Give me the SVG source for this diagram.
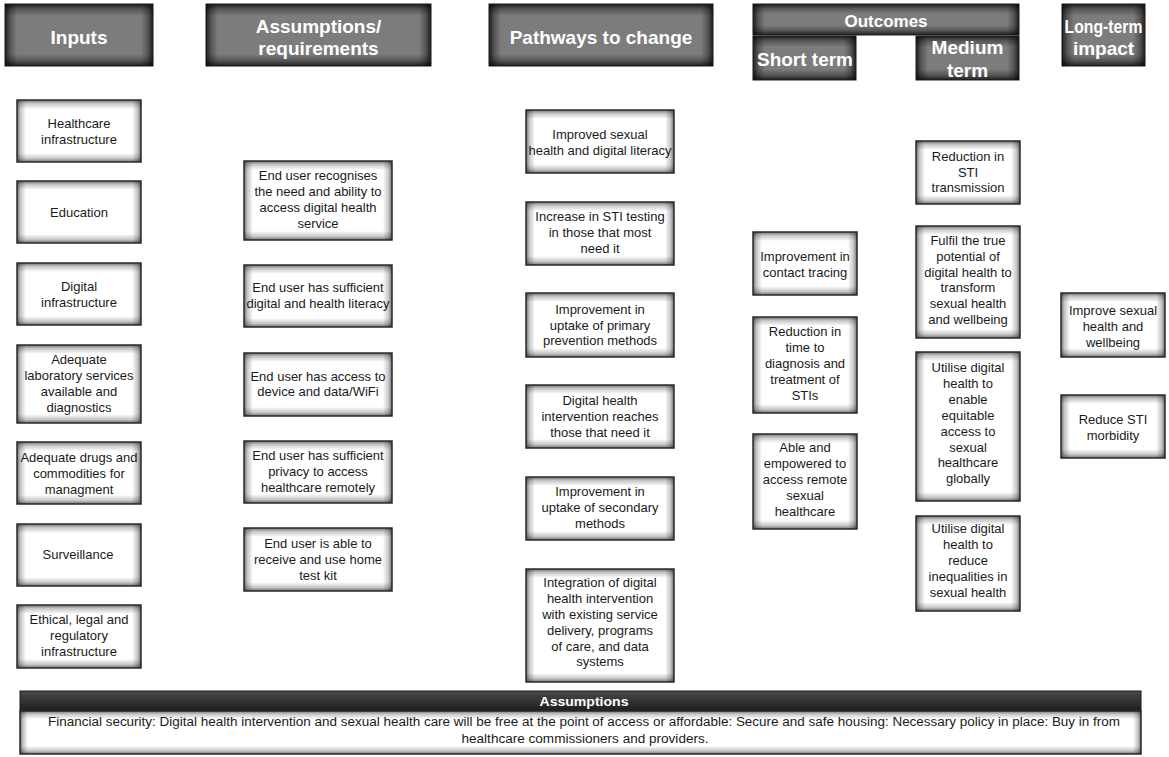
<svg xmlns="http://www.w3.org/2000/svg" width="1169" height="757" viewBox="0 0 1169 757">
<defs>
<linearGradient id="gT" x1="0" y1="0" x2="0" y2="1"><stop offset="0" stop-color="#000" stop-opacity="0.55"/><stop offset="0.4" stop-color="#000" stop-opacity="0.22"/><stop offset="1" stop-color="#000" stop-opacity="0"/></linearGradient>
<linearGradient id="gB" x1="0" y1="1" x2="0" y2="0"><stop offset="0" stop-color="#000" stop-opacity="0.55"/><stop offset="0.4" stop-color="#000" stop-opacity="0.22"/><stop offset="1" stop-color="#000" stop-opacity="0"/></linearGradient>
<linearGradient id="gL" x1="0" y1="0" x2="1" y2="0"><stop offset="0" stop-color="#000" stop-opacity="0.55"/><stop offset="0.4" stop-color="#000" stop-opacity="0.22"/><stop offset="1" stop-color="#000" stop-opacity="0"/></linearGradient>
<linearGradient id="gR" x1="1" y1="0" x2="0" y2="0"><stop offset="0" stop-color="#000" stop-opacity="0.55"/><stop offset="0.4" stop-color="#000" stop-opacity="0.22"/><stop offset="1" stop-color="#000" stop-opacity="0"/></linearGradient>
<linearGradient id="hT" x1="0" y1="0" x2="0" y2="1"><stop offset="0" stop-color="#000" stop-opacity="0.75"/><stop offset="0.45" stop-color="#000" stop-opacity="0.3"/><stop offset="1" stop-color="#000" stop-opacity="0"/></linearGradient>
<linearGradient id="hB" x1="0" y1="1" x2="0" y2="0"><stop offset="0" stop-color="#000" stop-opacity="0.75"/><stop offset="0.45" stop-color="#000" stop-opacity="0.3"/><stop offset="1" stop-color="#000" stop-opacity="0"/></linearGradient>
<linearGradient id="hL" x1="0" y1="0" x2="1" y2="0"><stop offset="0" stop-color="#000" stop-opacity="0.75"/><stop offset="0.45" stop-color="#000" stop-opacity="0.3"/><stop offset="1" stop-color="#000" stop-opacity="0"/></linearGradient>
<linearGradient id="hR" x1="1" y1="0" x2="0" y2="0"><stop offset="0" stop-color="#000" stop-opacity="0.75"/><stop offset="0.45" stop-color="#000" stop-opacity="0.3"/><stop offset="1" stop-color="#000" stop-opacity="0"/></linearGradient>
<linearGradient id="fH" x1="0" y1="0" x2="0" y2="1"><stop offset="0" stop-color="#4a4a4a"/><stop offset="0.5" stop-color="#333"/><stop offset="1" stop-color="#1e1e1e"/></linearGradient>
</defs>
<style>
  .b { fill: #ffffff; }
  .bt { fill: url(#gT); } .bb { fill: url(#gB); } .bl { fill: url(#gL); } .br { fill: url(#gR); }
  .o { fill: none; stroke: #2a2a2a; stroke-width: 1.5; }
  .hb { fill: #7c7c7c; }
  .ht1 { fill: url(#hT); } .hb1 { fill: url(#hB); } .hl1 { fill: url(#hL); } .hr1 { fill: url(#hR); }
  .ho { fill: none; stroke: #1a1a1a; stroke-width: 1; }
  .t { font-family: "Liberation Sans", Arial, sans-serif; font-size: 13px; fill: #1a1a1a; text-anchor: middle; }
  .ht { font-family: "Liberation Sans", Arial, sans-serif; font-size: 19px; font-weight: bold; fill: #ffffff; text-anchor: middle; }
  .ft { font-family: "Liberation Sans", Arial, sans-serif; font-size: 12px; fill: #1a1a1a; text-anchor: middle; }
</style>
<rect x="0" y="0" width="1169" height="757" fill="#ffffff"/>

<g id="hdr-inputs" transform="translate(5,4)"><rect class="hb" width="148" height="62"/><rect class="ht1" width="148" height="12"/><rect class="hb1" y="50" width="148" height="12"/><rect class="hl1" width="12" height="62"/><rect class="hr1" x="136" width="12" height="62"/><rect class="ho" width="148" height="62"/><text class="ht" x="74" y="39.5">Inputs</text></g>
<g id="hdr-assumptions" transform="translate(206,4)"><rect class="hb" width="225" height="62"/><rect class="ht1" width="225" height="12"/><rect class="hb1" y="50" width="225" height="12"/><rect class="hl1" width="12" height="62"/><rect class="hr1" x="213" width="12" height="62"/><rect class="ho" width="225" height="62"/><text class="ht"><tspan x="112.5" y="28.5">Assumptions/</tspan><tspan x="112.5" y="50.5">requirements</tspan></text></g>
<g id="hdr-pathways" transform="translate(489,4)"><rect class="hb" width="224" height="62"/><rect class="ht1" width="224" height="12"/><rect class="hb1" y="50" width="224" height="12"/><rect class="hl1" width="12" height="62"/><rect class="hr1" x="212" width="12" height="62"/><rect class="ho" width="224" height="62"/><text class="ht" x="112" y="39.5">Pathways to change</text></g>
<g id="hdr-outcomes" transform="translate(753,4)"><rect class="hb" width="266" height="31"/><rect class="ht1" width="266" height="10"/><rect class="hb1" y="21" width="266" height="10"/><rect class="hl1" width="12" height="31"/><rect class="hr1" x="254" width="12" height="31"/><rect class="ho" width="266" height="31"/><text class="ht" x="133" y="23" style="font-size:17px">Outcomes</text></g>
<g id="hdr-short" transform="translate(753,36)"><rect class="hb" width="103" height="44"/><rect class="ht1" width="103" height="11"/><rect class="hb1" y="33" width="103" height="11"/><rect class="hl1" width="12" height="44"/><rect class="hr1" x="91" width="12" height="44"/><rect class="ho" width="103" height="44"/><text class="ht" x="52" y="29.5" textLength="96" lengthAdjust="spacingAndGlyphs">Short term</text></g>
<g id="hdr-medium" transform="translate(916,36)"><rect class="hb" width="103" height="44"/><rect class="ht1" width="103" height="11"/><rect class="hb1" y="33" width="103" height="11"/><rect class="hl1" width="12" height="44"/><rect class="hr1" x="91" width="12" height="44"/><rect class="ho" width="103" height="44"/><text class="ht"><tspan x="51.5" y="17.5">Medium</tspan><tspan x="51.5" y="40.5">term</tspan></text></g>
<g id="hdr-longterm" transform="translate(1062,4)"><rect class="hb" width="83" height="62"/><rect class="ht1" width="83" height="12"/><rect class="hb1" y="50" width="83" height="12"/><rect class="hl1" width="12" height="62"/><rect class="hr1" x="71" width="12" height="62"/><rect class="ho" width="83" height="62"/><text class="ht"><tspan x="41.5" y="28.5" textLength="78" lengthAdjust="spacingAndGlyphs">Long-term</tspan><tspan x="41.5" y="50.5">impact</tspan></text></g>

<g id="in1" transform="translate(17,100)"><rect class="b" width="124" height="62"/><rect class="bt" width="124" height="9"/><rect class="bb" y="53" width="124" height="9"/><rect class="bl" width="9" height="62"/><rect class="br" x="115" width="9" height="62"/><rect class="o" width="124" height="62"/><text class="t"><tspan x="62" y="27.5">Healthcare</tspan><tspan x="62" y="43.5">infrastructure</tspan></text></g>
<g id="in2" transform="translate(17,181)"><rect class="b" width="124" height="62"/><rect class="bt" width="124" height="9"/><rect class="bb" y="53" width="124" height="9"/><rect class="bl" width="9" height="62"/><rect class="br" x="115" width="9" height="62"/><rect class="o" width="124" height="62"/><text class="t" x="62" y="35.5">Education</text></g>
<g id="in3" transform="translate(17,263)"><rect class="b" width="124" height="62"/><rect class="bt" width="124" height="9"/><rect class="bb" y="53" width="124" height="9"/><rect class="bl" width="9" height="62"/><rect class="br" x="115" width="9" height="62"/><rect class="o" width="124" height="62"/><text class="t"><tspan x="62" y="27.5">Digital</tspan><tspan x="62" y="43.5">infrastructure</tspan></text></g>
<g id="in4" transform="translate(17,345)"><rect class="b" width="124" height="78"/><rect class="bt" width="124" height="9"/><rect class="bb" y="69" width="124" height="9"/><rect class="bl" width="9" height="78"/><rect class="br" x="115" width="9" height="78"/><rect class="o" width="124" height="78"/><text class="t"><tspan x="62" y="19">Adequate</tspan><tspan x="62" y="35">laboratory services</tspan><tspan x="62" y="51">available and</tspan><tspan x="62" y="67">diagnostics</tspan></text></g>
<g id="in5" transform="translate(17,442)"><rect class="b" width="124" height="62"/><rect class="bt" width="124" height="9"/><rect class="bb" y="53" width="124" height="9"/><rect class="bl" width="9" height="62"/><rect class="br" x="115" width="9" height="62"/><rect class="o" width="124" height="62"/><text class="t"><tspan x="62" y="19.5">Adequate drugs and</tspan><tspan x="62" y="35.5">commodities for</tspan><tspan x="62" y="51.5">managment</tspan></text></g>
<g id="in6" transform="translate(17,524)"><rect class="b" width="124" height="62"/><rect class="bt" width="124" height="9"/><rect class="bb" y="53" width="124" height="9"/><rect class="bl" width="9" height="62"/><rect class="br" x="115" width="9" height="62"/><rect class="o" width="124" height="62"/><text class="t" x="61" y="35">Surveillance</text></g>
<g id="in7" transform="translate(17,605)"><rect class="b" width="124" height="63"/><rect class="bt" width="124" height="9"/><rect class="bb" y="54" width="124" height="9"/><rect class="bl" width="9" height="63"/><rect class="br" x="115" width="9" height="63"/><rect class="o" width="124" height="63"/><text class="t"><tspan x="62" y="19">Ethical, legal and</tspan><tspan x="62" y="35">regulatory</tspan><tspan x="62" y="51">infrastructure</tspan></text></g>

<g id="as1" transform="translate(244,161)"><rect class="b" width="148" height="79"/><rect class="bt" width="148" height="9"/><rect class="bb" y="70" width="148" height="9"/><rect class="bl" width="9" height="79"/><rect class="br" x="139" width="9" height="79"/><rect class="o" width="148" height="79"/><text class="t"><tspan x="74" y="19">End user recognises</tspan><tspan x="74" y="35">the need and ability to</tspan><tspan x="74" y="51">access digital health</tspan><tspan x="74" y="67">service</tspan></text></g>
<g id="as2" transform="translate(244,265)"><rect class="b" width="148" height="62"/><rect class="bt" width="148" height="9"/><rect class="bb" y="53" width="148" height="9"/><rect class="bl" width="9" height="62"/><rect class="br" x="139" width="9" height="62"/><rect class="o" width="148" height="62"/><text class="t"><tspan x="74" y="27">End user has sufficient</tspan><tspan x="74" y="43">digital and health literacy</tspan></text></g>
<g id="as3" transform="translate(244,353)"><rect class="b" width="148" height="63"/><rect class="bt" width="148" height="9"/><rect class="bb" y="54" width="148" height="9"/><rect class="bl" width="9" height="63"/><rect class="br" x="139" width="9" height="63"/><rect class="o" width="148" height="63"/><text class="t"><tspan x="74" y="28">End user has access to</tspan><tspan x="74" y="43">device and data/WiFi</tspan></text></g>
<g id="as4" transform="translate(244,441)"><rect class="b" width="148" height="62"/><rect class="bt" width="148" height="9"/><rect class="bb" y="53" width="148" height="9"/><rect class="bl" width="9" height="62"/><rect class="br" x="139" width="9" height="62"/><rect class="o" width="148" height="62"/><text class="t"><tspan x="74" y="18.5">End user has sufficient</tspan><tspan x="74" y="34.5">privacy to access</tspan><tspan x="74" y="50.5">healthcare remotely</tspan></text></g>
<g id="as5" transform="translate(244,528)"><rect class="b" width="148" height="63"/><rect class="bt" width="148" height="9"/><rect class="bb" y="54" width="148" height="9"/><rect class="bl" width="9" height="63"/><rect class="br" x="139" width="9" height="63"/><rect class="o" width="148" height="63"/><text class="t"><tspan x="74" y="19.5">End user is able to</tspan><tspan x="74" y="35.5">receive and use home</tspan><tspan x="74" y="51.5">test kit</tspan></text></g>

<g id="pw1" transform="translate(526,110)"><rect class="b" width="148" height="63"/><rect class="bt" width="148" height="9"/><rect class="bb" y="54" width="148" height="9"/><rect class="bl" width="9" height="63"/><rect class="br" x="139" width="9" height="63"/><rect class="o" width="148" height="63"/><text class="t"><tspan x="74" y="28.5">Improved sexual</tspan><tspan x="74" y="44.5">health and digital literacy</tspan></text></g>
<g id="pw2" transform="translate(526,202)"><rect class="b" width="148" height="63"/><rect class="bt" width="148" height="9"/><rect class="bb" y="54" width="148" height="9"/><rect class="bl" width="9" height="63"/><rect class="br" x="139" width="9" height="63"/><rect class="o" width="148" height="63"/><text class="t"><tspan x="74" y="19">Increase in STI testing</tspan><tspan x="74" y="35">in those that most</tspan><tspan x="74" y="51">need it</tspan></text></g>
<g id="pw3" transform="translate(526,293)"><rect class="b" width="148" height="64"/><rect class="bt" width="148" height="9"/><rect class="bb" y="55" width="148" height="9"/><rect class="bl" width="9" height="64"/><rect class="br" x="139" width="9" height="64"/><rect class="o" width="148" height="64"/><text class="t"><tspan x="74" y="21">Improvement in</tspan><tspan x="74" y="36.5">uptake of primary</tspan><tspan x="74" y="52">prevention methods</tspan></text></g>
<g id="pw4" transform="translate(526,385)"><rect class="b" width="148" height="63"/><rect class="bt" width="148" height="9"/><rect class="bb" y="54" width="148" height="9"/><rect class="bl" width="9" height="63"/><rect class="br" x="139" width="9" height="63"/><rect class="o" width="148" height="63"/><text class="t"><tspan x="74" y="19.5">Digital health</tspan><tspan x="74" y="35.5">intervention reaches</tspan><tspan x="74" y="51.5">those that need it</tspan></text></g>
<g id="pw5" transform="translate(526,477)"><rect class="b" width="148" height="63"/><rect class="bt" width="148" height="9"/><rect class="bb" y="54" width="148" height="9"/><rect class="bl" width="9" height="63"/><rect class="br" x="139" width="9" height="63"/><rect class="o" width="148" height="63"/><text class="t"><tspan x="74" y="19">Improvement in</tspan><tspan x="74" y="35">uptake of secondary</tspan><tspan x="74" y="51">methods</tspan></text></g>
<g id="pw6" transform="translate(526,569)"><rect class="b" width="148" height="113"/><rect class="bt" width="148" height="9"/><rect class="bb" y="104" width="148" height="9"/><rect class="bl" width="9" height="113"/><rect class="br" x="139" width="9" height="113"/><rect class="o" width="148" height="113"/><text class="t"><tspan x="74" y="17.5">Integration of digital</tspan><tspan x="74" y="33.5">health intervention</tspan><tspan x="74" y="49.5">with existing service</tspan><tspan x="74" y="65.5">delivery, programs</tspan><tspan x="74" y="81.5">of care, and data</tspan><tspan x="74" y="97">systems</tspan></text></g>

<g id="st1" transform="translate(753,232)"><rect class="b" width="104" height="63"/><rect class="bt" width="104" height="9"/><rect class="bb" y="54" width="104" height="9"/><rect class="bl" width="9" height="63"/><rect class="br" x="95" width="9" height="63"/><rect class="o" width="104" height="63"/><text class="t"><tspan x="52" y="28.5">Improvement in</tspan><tspan x="52" y="44.5">contact tracing</tspan></text></g>
<g id="st2" transform="translate(753,317)"><rect class="b" width="104" height="96"/><rect class="bt" width="104" height="9"/><rect class="bb" y="87" width="104" height="9"/><rect class="bl" width="9" height="96"/><rect class="br" x="95" width="9" height="96"/><rect class="o" width="104" height="96"/><text class="t"><tspan x="52" y="19">Reduction in</tspan><tspan x="52" y="35">time to</tspan><tspan x="52" y="51">diagnosis and</tspan><tspan x="52" y="67">treatment of</tspan><tspan x="52" y="83">STIs</tspan></text></g>
<g id="st3" transform="translate(753,434)"><rect class="b" width="104" height="95"/><rect class="bt" width="104" height="9"/><rect class="bb" y="86" width="104" height="9"/><rect class="bl" width="9" height="95"/><rect class="br" x="95" width="9" height="95"/><rect class="o" width="104" height="95"/><text class="t"><tspan x="52" y="18">Able and</tspan><tspan x="52" y="34">empowered to</tspan><tspan x="52" y="50">access remote</tspan><tspan x="52" y="66">sexual</tspan><tspan x="52" y="82">healthcare</tspan></text></g>

<g id="md1" transform="translate(916,141)"><rect class="b" width="104" height="63"/><rect class="bt" width="104" height="9"/><rect class="bb" y="54" width="104" height="9"/><rect class="bl" width="9" height="63"/><rect class="br" x="95" width="9" height="63"/><rect class="o" width="104" height="63"/><text class="t"><tspan x="52" y="19.5">Reduction in</tspan><tspan x="52" y="35.5">STI</tspan><tspan x="52" y="51">transmission</tspan></text></g>
<g id="md2" transform="translate(916,226)"><rect class="b" width="104" height="112"/><rect class="bt" width="104" height="9"/><rect class="bb" y="103" width="104" height="9"/><rect class="bl" width="9" height="112"/><rect class="br" x="95" width="9" height="112"/><rect class="o" width="104" height="112"/><text class="t"><tspan x="52" y="18.5">Fulfil the true</tspan><tspan x="52" y="34.5">potential of</tspan><tspan x="52" y="50.5">digital health to</tspan><tspan x="52" y="66">transform</tspan><tspan x="52" y="82">sexual health</tspan><tspan x="52" y="97.5">and wellbeing</tspan></text></g>
<g id="md3" transform="translate(916,352)"><rect class="b" width="104" height="149"/><rect class="bt" width="104" height="9"/><rect class="bb" y="140" width="104" height="9"/><rect class="bl" width="9" height="149"/><rect class="br" x="95" width="9" height="149"/><rect class="o" width="104" height="149"/><text class="t"><tspan x="52" y="20">Utilise digital</tspan><tspan x="52" y="36">health to</tspan><tspan x="52" y="52">enable</tspan><tspan x="52" y="67.5">equitable</tspan><tspan x="52" y="83.5">access to</tspan><tspan x="52" y="99.5">sexual</tspan><tspan x="52" y="115">healthcare</tspan><tspan x="52" y="131">globally</tspan></text></g>
<g id="md4" transform="translate(916,516)"><rect class="b" width="104" height="95"/><rect class="bt" width="104" height="9"/><rect class="bb" y="86" width="104" height="9"/><rect class="bl" width="9" height="95"/><rect class="br" x="95" width="9" height="95"/><rect class="o" width="104" height="95"/><text class="t"><tspan x="52" y="16.5">Utilise digital</tspan><tspan x="52" y="32.5">health to</tspan><tspan x="52" y="48.5">reduce</tspan><tspan x="52" y="64.5">inequalities in</tspan><tspan x="52" y="80.5">sexual health</tspan></text></g>

<g id="lt1" transform="translate(1061,293)"><rect class="b" width="104" height="64"/><rect class="bt" width="104" height="9"/><rect class="bb" y="55" width="104" height="9"/><rect class="bl" width="9" height="64"/><rect class="br" x="95" width="9" height="64"/><rect class="o" width="104" height="64"/><text class="t"><tspan x="52" y="21.5">Improve sexual</tspan><tspan x="52" y="37.5">health and</tspan><tspan x="52" y="53.5">wellbeing</tspan></text></g>
<g id="lt2" transform="translate(1061,395)"><rect class="b" width="104" height="63"/><rect class="bt" width="104" height="9"/><rect class="bb" y="54" width="104" height="9"/><rect class="bl" width="9" height="63"/><rect class="br" x="95" width="9" height="63"/><rect class="o" width="104" height="63"/><text class="t"><tspan x="52" y="28.5">Reduce STI</tspan><tspan x="52" y="44.5">morbidity</tspan></text></g>

<g id="footer-assumptions" transform="translate(20,691)">
  <rect width="1121" height="20" fill="url(#fH)" stroke="#1a1a1a" stroke-width="1"/>
  <text class="ht" x="564" y="14.5" style="font-size:13px" textLength="89" lengthAdjust="spacingAndGlyphs">Assumptions</text>
  <g transform="translate(0,20)">
    <rect class="b" width="1121" height="43"/><rect class="bt" width="1121" height="8"/><rect class="bb" y="35" width="1121" height="8"/><rect class="bl" width="8" height="43"/><rect class="br" x="1113" width="8" height="43"/><rect class="o" width="1121" height="43"/>
    <text class="ft"><tspan x="564" y="15" textLength="1072" lengthAdjust="spacingAndGlyphs">Financial security: Digital health intervention and sexual health care will be free at the point of access or affordable: Secure and safe housing: Necessary policy in place: Buy in from</tspan><tspan x="565" y="32" textLength="247" lengthAdjust="spacingAndGlyphs">healthcare commissioners and providers.</tspan></text>
  </g>
</g>

<g id="connectors"></g>
</svg>
